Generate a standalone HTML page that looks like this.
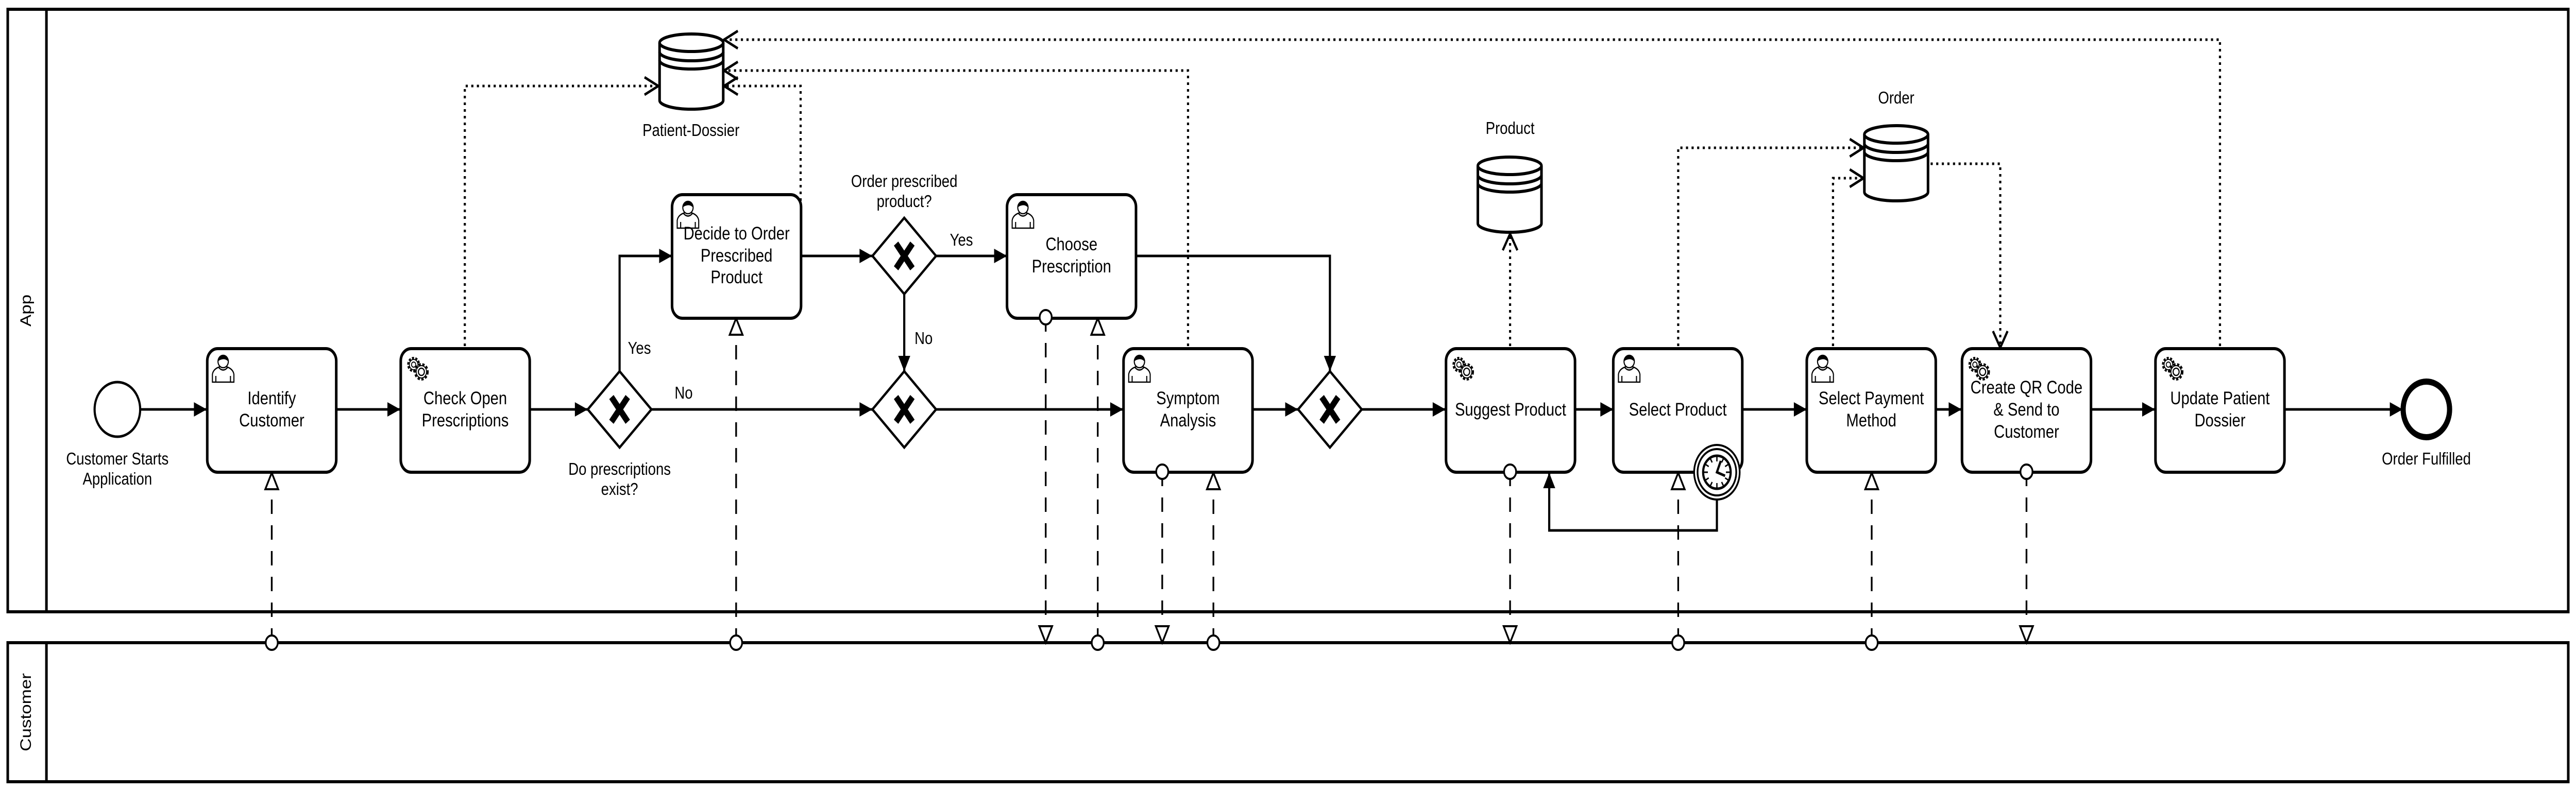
<!DOCTYPE html>
<html><head><meta charset="utf-8">
<style>
html,body{margin:0;padding:0;background:#fff;overflow:hidden;width:100vw;height:100vh;}
svg{display:block;position:fixed;left:0;top:0;width:100vw;height:100vh;}
text{font-family:"Liberation Sans",Arial,sans-serif;fill:#000;}
</style></head>
<body>
<svg viewBox="0 0 5991 1536" preserveAspectRatio="none" xmlns="http://www.w3.org/2000/svg">
<defs>
  <marker id="arr" markerUnits="userSpaceOnUse" markerWidth="34" markerHeight="34" viewBox="0 0 34 34" refX="32" refY="17" orient="auto">
    <path d="M2,3 L32,17 L2,31 Z" fill="#000"/>
  </marker>
  <marker id="chev" markerUnits="userSpaceOnUse" markerWidth="40" markerHeight="44" viewBox="0 0 40 44" refX="36" refY="22" orient="auto">
    <path d="M4,5 L36,22 L4,39" fill="none" stroke="#000" stroke-width="5"/>
  </marker>
  <marker id="tri" markerUnits="userSpaceOnUse" markerWidth="40" markerHeight="40" viewBox="0 0 40 40" refX="36" refY="20" orient="auto">
    <path d="M4,5 L36,20 L4,35 Z" fill="#fff" stroke="#000" stroke-width="4"/>
  </marker>
  <marker id="circ" markerUnits="userSpaceOnUse" markerWidth="40" markerHeight="40" viewBox="0 0 40 40" refX="20" refY="20" orient="auto">
    <circle cx="20" cy="20" r="14" fill="#fff" stroke="#000" stroke-width="4"/>
  </marker>
  <g id="user">
    <path d="M12,62 L12,47 Q14,36 30,32 L44,32 Q60,36 62,47 L62,62 Z" fill="#fff" stroke="#000" stroke-width="2.5"/>
    <path d="M26,33 Q37,44 48,33" fill="none" stroke="#000" stroke-width="2.5"/>
    <line x1="20" y1="50" x2="20" y2="62" stroke="#000" stroke-width="2.5"/>
    <line x1="54" y1="50" x2="54" y2="62" stroke="#000" stroke-width="2.5"/>
    <circle cx="37" cy="22" r="12" fill="#fff" stroke="#000" stroke-width="2.5"/>
    <path d="M25,22 A12,12 0 0 1 49,22 Q42,16 34,18 Q28,19 25,22 Z" fill="#000"/>
  </g>
  <g id="gear">
    <circle cx="30" cy="28" r="12" fill="#fff" stroke="#000" stroke-width="6" stroke-dasharray="4.5 3"/>
    <circle cx="30" cy="28" r="10" fill="#fff" stroke="#000" stroke-width="2"/>
    <circle cx="30" cy="28" r="5" fill="#fff" stroke="#000" stroke-width="2"/>
    <circle cx="48" cy="42" r="14" fill="#fff" stroke="#000" stroke-width="6" stroke-dasharray="5 3.5"/>
    <circle cx="48" cy="42" r="12" fill="#fff" stroke="#000" stroke-width="2"/>
    <circle cx="48" cy="42" r="7" fill="#fff" stroke="#000" stroke-width="2.5"/>
  </g>
  <g id="ds">
    <path d="M0,18 L0,130 A74,17 0 0 0 148,130 L148,18" fill="#fff" stroke="#000" stroke-width="6"/>
    <ellipse cx="74" cy="18" rx="74" ry="17" fill="#fff" stroke="#000" stroke-width="6"/>
    <path d="M0,36 A74,17 0 0 0 148,36" fill="none" stroke="#000" stroke-width="6"/>
    <path d="M0,52 A74,17 0 0 0 148,52" fill="none" stroke="#000" stroke-width="6"/>
  </g>
  <g id="gw">
    <path d="M0,-74 L74,0 L0,74 L-74,0 Z" fill="#fff" stroke="#000" stroke-width="5"/>
    <path d="M-19,-24 L19,24 M19,-24 L-19,24" stroke="#000" stroke-width="13"/>
  </g>
</defs>

<rect x="18" y="18" width="5955" height="1170" fill="none" stroke="#000" stroke-width="6"/>
<line x1="108" y1="18" x2="108" y2="1188" stroke="#000" stroke-width="6"/>
<rect x="18" y="1248" width="5955" height="270" fill="none" stroke="#000" stroke-width="6"/>
<line x1="108" y1="1248" x2="108" y2="1518" stroke="#000" stroke-width="6"/>
<text x="0" y="0" font-size="35" text-anchor="middle" transform="translate(72,603) rotate(-90)">App</text>
<text x="0" y="0" font-size="35" text-anchor="middle" transform="translate(72,1383) rotate(-90)">Customer</text>

<g fill="none" stroke="#000" stroke-width="5" stroke-dasharray="5 8">
  <path d="M1081,672 L1081,167 L1531,167" marker-end="url(#chev)"/>
  <path d="M1862,390 L1862,167 L1684,167" marker-end="url(#chev)"/>
  <path d="M2763,672 L2763,137 L1684,137" marker-end="url(#chev)"/>
  <path d="M5163,672 L5163,77 L1684,77" marker-end="url(#chev)"/>
  <path d="M3512,672 L3512,454" marker-end="url(#chev)"/>
  <path d="M3903,672 L3903,287 L4334,287" marker-end="url(#chev)"/>
  <path d="M4263,672 L4263,346 L4334,346" marker-end="url(#chev)"/>
  <path d="M4490,318 L4652,318 L4652,675" marker-end="url(#chev)"/>
</g>

<g fill="none" stroke="#000" stroke-width="4" stroke-dasharray="28 22">
  <path d="M632,1248 L632,918" marker-start="url(#circ)" marker-end="url(#tri)"/>
  <path d="M1712,1248 L1712,618" marker-start="url(#circ)" marker-end="url(#tri)"/>
  <path d="M2553,1248 L2553,618" marker-start="url(#circ)" marker-end="url(#tri)"/>
  <path d="M2822,1248 L2822,918" marker-start="url(#circ)" marker-end="url(#tri)"/>
  <path d="M3903,1248 L3903,918" marker-start="url(#circ)" marker-end="url(#tri)"/>
  <path d="M4353,1248 L4353,918" marker-start="url(#circ)" marker-end="url(#tri)"/>
  <path d="M2432,616 L2432,1248" marker-start="url(#circ)" marker-end="url(#tri)"/>
  <path d="M2703,916 L2703,1248" marker-start="url(#circ)" marker-end="url(#tri)"/>
  <path d="M3512,916 L3512,1248" marker-start="url(#circ)" marker-end="url(#tri)"/>
  <path d="M4713,916 L4713,1248" marker-start="url(#circ)" marker-end="url(#tri)"/>
</g>

<g fill="none" stroke="#000" stroke-width="5">
  <path d="M326,795 L481,795" marker-end="url(#arr)"/>
  <path d="M782,795 L931,795" marker-end="url(#arr)"/>
  <path d="M1232,795 L1367,795" marker-end="url(#arr)"/>
  <path d="M1441,721 L1441,497 L1563,497" marker-end="url(#arr)"/>
  <path d="M1515,795 L2029,795" marker-end="url(#arr)"/>
  <path d="M1863,497 L2029,497" marker-end="url(#arr)"/>
  <path d="M2177,497 L2342,497" marker-end="url(#arr)"/>
  <path d="M2103,571 L2103,721" marker-end="url(#arr)"/>
  <path d="M2177,795 L2612,795" marker-end="url(#arr)"/>
  <path d="M2642,497 L3093,497 L3093,721" marker-end="url(#arr)"/>
  <path d="M2913,795 L3019,795" marker-end="url(#arr)"/>
  <path d="M3167,795 L3362,795" marker-end="url(#arr)"/>
  <path d="M3663,795 L3752,795" marker-end="url(#arr)"/>
  <path d="M4053,795 L4202,795" marker-end="url(#arr)"/>
  <path d="M4502,795 L4562,795" marker-end="url(#arr)"/>
  <path d="M4863,795 L5012,795" marker-end="url(#arr)"/>
  <path d="M5313,795 L5588,795" marker-end="url(#arr)"/>
  <path d="M3993,970 L3993,1030 L3603,1030 L3603,918" marker-end="url(#arr)"/>
</g>

<circle cx="273" cy="795" r="53" fill="#fff" stroke="#000" stroke-width="5"/>
<text x="273" y="902" font-size="33" text-anchor="middle">Customer Starts</text>
<text x="273" y="941" font-size="33" text-anchor="middle">Application</text>
<circle cx="5643" cy="795" r="54" fill="#fff" stroke="#000" stroke-width="12"/>
<text x="5643" y="902" font-size="33" text-anchor="middle">Order Fulfilled</text>

<use href="#gw" x="1441" y="795"/>
<use href="#gw" x="2103" y="497"/>
<use href="#gw" x="2103" y="795"/>
<use href="#gw" x="3093" y="795"/>
<text x="1441" y="922" font-size="33" text-anchor="middle">Do prescriptions</text>
<text x="1441" y="961" font-size="33" text-anchor="middle">exist?</text>
<text x="1487" y="687" font-size="33" text-anchor="middle">Yes</text>
<text x="1590" y="774" font-size="33" text-anchor="middle">No</text>
<text x="2103" y="363" font-size="33" text-anchor="middle">Order prescribed</text>
<text x="2103" y="402" font-size="33" text-anchor="middle">product?</text>
<text x="2236" y="477" font-size="33" text-anchor="middle">Yes</text>
<text x="2148" y="668" font-size="33" text-anchor="middle">No</text>

<use href="#ds" x="1534" y="65"/>
<text x="1607" y="264" font-size="33" text-anchor="middle">Patient-Dossier</text>
<use href="#ds" x="3437" y="304"/>
<text x="3512" y="260" font-size="33" text-anchor="middle">Product</text>
<use href="#ds" x="4336" y="243"/>
<text x="4410" y="201" font-size="33" text-anchor="middle">Order</text>

<g fill="#fff" stroke="#000" stroke-width="6">
  <rect x="482" y="677" width="300" height="240" rx="24"/>
  <rect x="932" y="677" width="300" height="240" rx="24"/>
  <rect x="1563" y="378" width="300" height="240" rx="24"/>
  <rect x="2342" y="378" width="300" height="240" rx="24"/>
  <rect x="2613" y="677" width="300" height="240" rx="24"/>
  <rect x="3363" y="677" width="300" height="240" rx="24"/>
  <rect x="3752" y="677" width="300" height="240" rx="24"/>
  <rect x="4202" y="677" width="300" height="240" rx="24"/>
  <rect x="4563" y="677" width="300" height="240" rx="24"/>
  <rect x="5013" y="677" width="300" height="240" rx="24"/>
</g>
<g fill="#fff" stroke="#000" stroke-width="4">
  <circle cx="2432" cy="616" r="14"/>
  <circle cx="2703" cy="916" r="14"/>
  <circle cx="3512" cy="916" r="14"/>
  <circle cx="4713" cy="916" r="14"/>
</g>

<use href="#user" x="482" y="680"/>
<use href="#gear" x="932" y="680"/>
<use href="#user" x="1563" y="381"/>
<use href="#user" x="2342" y="381"/>
<use href="#user" x="2613" y="680"/>
<use href="#gear" x="3363" y="680"/>
<use href="#user" x="3752" y="680"/>
<use href="#user" x="4202" y="680"/>
<use href="#gear" x="4563" y="680"/>
<use href="#gear" x="5013" y="680"/>

<g font-size="35" text-anchor="middle">
  <text x="632" y="785">Identify</text>
  <text x="632" y="828">Customer</text>
  <text x="1082" y="785">Check Open</text>
  <text x="1082" y="828">Prescriptions</text>
  <text x="1713" y="465">Decide to Order</text>
  <text x="1713" y="508">Prescribed</text>
  <text x="1713" y="550">Product</text>
  <text x="2492" y="486">Choose</text>
  <text x="2492" y="529">Prescription</text>
  <text x="2763" y="785">Symptom</text>
  <text x="2763" y="828">Analysis</text>
  <text x="3513" y="807">Suggest Product</text>
  <text x="3902" y="807">Select Product</text>
  <text x="4352" y="785">Select Payment</text>
  <text x="4352" y="828">Method</text>
  <text x="4713" y="764">Create QR Code</text>
  <text x="4713" y="807">&amp; Send to</text>
  <text x="4713" y="850">Customer</text>
  <text x="5163" y="785">Update Patient</text>
  <text x="5163" y="828">Dossier</text>
</g>

<g>
  <circle cx="3993" cy="917" r="53" fill="#fff" stroke="#000" stroke-width="4"/>
  <circle cx="3993" cy="917" r="45" fill="#fff" stroke="#000" stroke-width="4"/>
  <circle cx="3993" cy="917" r="32" fill="#fff" stroke="#000" stroke-width="5"/>
  <g stroke="#000" stroke-width="3">
    <line x1="3993" y1="887" x2="3993" y2="896"/>
    <line x1="3993" y1="938" x2="3993" y2="947"/>
    <line x1="3963" y1="917" x2="3972" y2="917"/>
    <line x1="4014" y1="917" x2="4023" y2="917"/>
    <line x1="4008" y1="891" x2="4004" y2="898"/>
    <line x1="4019" y1="902" x2="4012" y2="906"/>
    <line x1="4019" y1="932" x2="4012" y2="928"/>
    <line x1="4008" y1="943" x2="4004" y2="936"/>
    <line x1="3978" y1="943" x2="3982" y2="936"/>
    <line x1="3967" y1="932" x2="3974" y2="928"/>
    <line x1="3967" y1="902" x2="3974" y2="906"/>
    <line x1="3978" y1="891" x2="3982" y2="898"/>
  </g>
  <path d="M4002,895 L3993,917 L4012,924" fill="none" stroke="#000" stroke-width="5"/>
</g>
</svg>
</body></html>
